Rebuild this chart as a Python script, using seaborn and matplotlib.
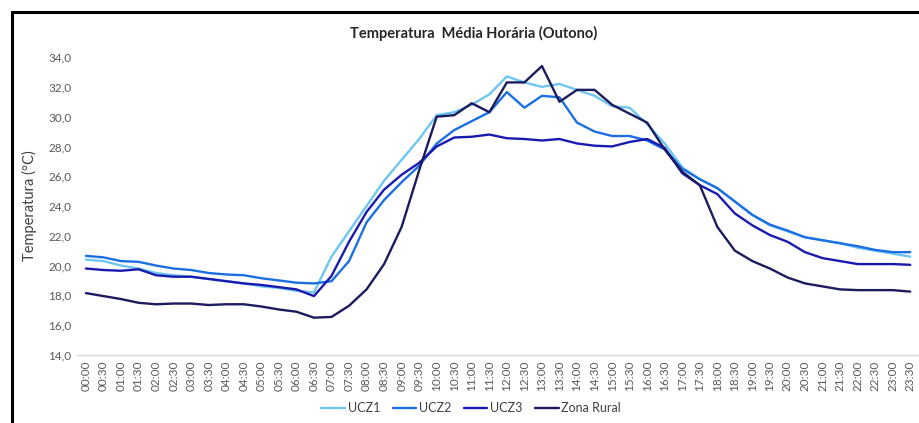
import numpy as np
import pandas as pd
import matplotlib.pyplot as plt
from matplotlib.lines import Line2D
import seaborn as sns

# horarios (meia em meia hora)
horas = [f"{h:02d}:{m:02d}" for h in range(24) for m in (0, 30)]

ucz1 = [20.4, 20.3, 20.0, 19.8, 19.5, 19.35, 19.25, 19.1, 18.95, 18.8,
        18.6, 18.5, 18.3, 18.2, 20.6, 22.3, 24.0, 25.7, 27.1, 28.5,
        30.1, 30.3, 30.8, 31.5, 32.7, 32.3, 32.0, 32.2, 31.8, 31.4,
        30.7, 30.6, 29.5, 28.2, 26.6, 25.8, 25.2, 24.3, 23.4, 22.7,
        22.3, 21.9, 21.7, 21.5, 21.2, 21.0, 20.8, 20.6]
ucz2 = [20.65, 20.55, 20.3, 20.25, 20.0, 19.8, 19.7, 19.5, 19.4, 19.35,
        19.15, 19.0, 18.85, 18.8, 18.95, 20.3, 22.9, 24.4, 25.6, 26.7,
        28.2, 29.1, 29.7, 30.3, 31.65, 30.6, 31.4, 31.3, 29.6, 29.0,
        28.7, 28.7, 28.4, 27.8, 26.5, 25.8, 25.2, 24.3, 23.4, 22.75,
        22.35, 21.9, 21.7, 21.5, 21.3, 21.05, 20.9, 20.9]
ucz3 = [19.8, 19.7, 19.65, 19.75, 19.35, 19.25, 19.25, 19.1, 18.95, 18.8,
        18.7, 18.55, 18.4, 17.95, 19.3, 21.6, 23.6, 25.1, 26.1, 26.9,
        28.0, 28.6, 28.65, 28.8, 28.55, 28.5, 28.4, 28.5, 28.2, 28.05,
        28.0, 28.3, 28.5, 27.9, 26.2, 25.4, 24.8, 23.5, 22.7, 22.05,
        21.6, 20.9, 20.5, 20.3, 20.1, 20.1, 20.1, 20.05]
rural = [18.15, 17.95, 17.75, 17.5, 17.4, 17.45, 17.45, 17.35, 17.4, 17.4,
         17.25, 17.05, 16.9, 16.5, 16.55, 17.3, 18.4, 20.1, 22.6, 26.4,
         30.0, 30.1, 30.9, 30.3, 32.3, 32.3, 33.4, 31.0, 31.8, 31.8,
         30.8, 30.2, 29.6, 27.8, 26.3, 25.4, 22.6, 21.0, 20.3, 19.8,
         19.2, 18.8, 18.6, 18.4, 18.35, 18.35, 18.35, 18.25]

series = {"UCZ1": ucz1, "UCZ2": ucz2, "UCZ3": ucz3, "Zona Rural": rural}
cores = {"UCZ1": "#6EC6F0", "UCZ2": "#1C6FE0", "UCZ3": "#1A1AB0", "Zona Rural": "#1B1B5E"}

df = pd.concat([pd.DataFrame({"hora": np.arange(len(horas)), "temp": v, "zona": k})
                for k, v in series.items()], ignore_index=True)

sns.set_theme(style="white")
plt.rcParams['font.family'] = ['Lato', 'DejaVu Sans']

fig = plt.figure(figsize=(9.19, 4.23), dpi=100)
ax = fig.add_axes([0.084, 0.161, 0.916, 0.704])

sns.lineplot(data=df, x="hora", y="temp", hue="zona", palette=cores,
             linewidth=1.7, ax=ax)

ax.set_xlim(-0.5, len(horas) - 0.5)
ax.set_ylim(14, 34)
ax.set_yticks(np.arange(14, 35, 2))
ax.set_yticklabels([f"{v:.1f}".replace(".", ",") for v in np.arange(14, 35, 2)],
                   fontsize=8.5, color="#595959")
ax.set_xticks(np.arange(len(horas)))
ax.set_xticklabels(horas, rotation=90, fontsize=8.5, color="#595959")
ax.tick_params(axis="both", length=0, pad=4)

for s in ["top", "right", "left"]:
    ax.spines[s].set_visible(False)
ax.spines["bottom"].set_color("#D9D9D9")
ax.spines["bottom"].set_linewidth(1)

ax.set_xlabel("")
ax.set_ylabel("Temperatura (°C)", fontsize=10.5, color="#404040", labelpad=8)
fig.text(0.515, 0.922, "Temperatura  Média Horária (Outono)", ha="center", va="center",
         fontsize=10.5, fontweight="bold", color="#262626")

ax.legend(loc="center", bbox_to_anchor=(0.468, -0.178), ncol=4, frameon=False,
          fontsize=9, handlelength=1.9, columnspacing=1.0, handletextpad=0.2,
          labelcolor="#404040")

# moldura preta do grafico original (topo e lado esquerdo)
x0, y0 = 12 / 919, 1 - 12 / 423
fig.add_artist(Line2D([x0, 1], [y0, y0], transform=fig.transFigure, color="black", linewidth=2.2))
fig.add_artist(Line2D([x0, x0], [0, y0], transform=fig.transFigure, color="black", linewidth=2.2))

fig.savefig("out.png", dpi=100)
